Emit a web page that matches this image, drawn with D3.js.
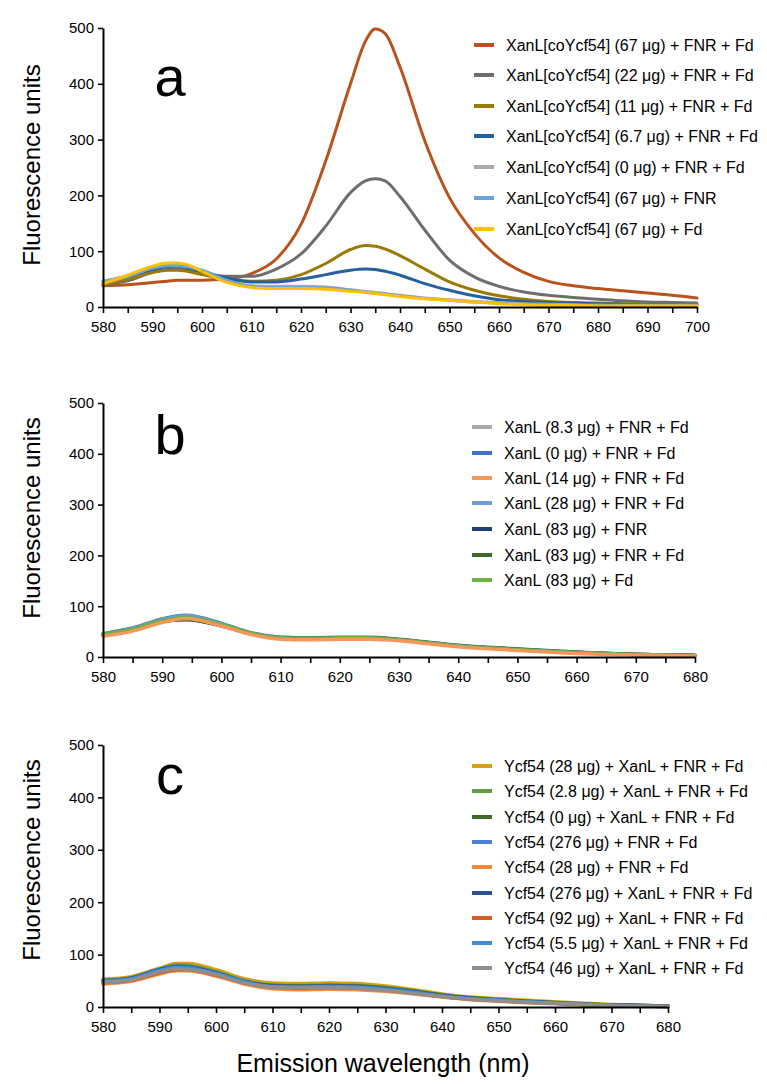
<!DOCTYPE html>
<html><head><meta charset="utf-8">
<script src="https://cdn.jsdelivr.net/npm/d3@7"></script>
<style>
body{margin:0;background:#fff}
svg{display:block}
text{font-family:"Liberation Sans",Arial,Helvetica,sans-serif;fill:#000}
</style>
</head><body>
<svg id="chart" width="767" height="1084"></svg>
<script>
// ---------------- DATA ----------------
const yTicks = [0, 100, 200, 300, 400, 500];

// Panel a
const waveA = [580,585,590,593,595,597,600,605,610,615,620,625,630,633,635,637,640,645,650,655,660,665,670,675,680,685,690,695,700];
const namesA = [
  "XanL[coYcf54] (67 \u03bcg) + FNR + Fd",
  "XanL[coYcf54] (22 \u03bcg) + FNR + Fd",
  "XanL[coYcf54] (11 \u03bcg) + FNR + Fd",
  "XanL[coYcf54] (6.7 \u03bcg) + FNR + Fd",
  "XanL[coYcf54] (0 \u03bcg) + FNR + Fd",
  "XanL[coYcf54] (67 \u03bcg) + FNR",
  "XanL[coYcf54] (67 \u03bcg) + Fd"
];
const colorsA = ["#B8531C","#6E6E6E","#9A7A06","#25609F","#ABABAB","#68A3DC","#FFC000"];
const a67  = [38,40,44,46,48,48,48,50,60,86,148,262,400,476,498,490,430,298,196,132,88,62,46,38,33,29,25,21,16];
const a22  = [40,47,62,67,68,66,61,55,55,68,95,145,205,226,230,226,198,138,84,54,37,27,21,17,14,11,9,8,7];
const a11  = [40,50,62,66,66,64,58,50,46,48,58,78,103,110,109,104,92,68,45,30,20,14,10,8,7,6,5,4,4];
const a6_7 = [45,55,67,72,73,70,64,52,45,45,50,58,66,68,67,64,57,42,30,20,13,10,8,7,6,5,4,4,3];
const a0   = [42,55,70,75,76,74,65,47,38,37,37,36,31,28,26,24,21,16,13,10,8,6,5,4,3,3,3,3,3];
const aFNR = [46,56,70,74,74,72,66,48,37,35,35,34,30,27,25,23,20,15,12,9,7,5,4,3,3,2,2,2,2];
const aFd  = [42,57,73,79,79,76,64,44,35,33,33,32,28,26,24,22,19,15,12,9,6,4,3,3,2,2,2,2,2];

// Panel b
const waveB = [580,585,590,594,600,605,610,615,620,625,630,635,640,645,650,655,660,665,670,675,680];
const namesB = [
  "XanL (8.3 \u03bcg) + FNR + Fd",
  "XanL (0 \u03bcg) + FNR + Fd",
  "XanL (14 \u03bcg) + FNR + Fd",
  "XanL (28 \u03bcg) + FNR + Fd",
  "XanL (83 \u03bcg) + FNR",
  "XanL (83 \u03bcg) + FNR + Fd",
  "XanL (83 \u03bcg) + Fd"
];
const colorsB = ["#A9A9A9","#4472C4","#F4975A","#6F9BDC","#223F74","#3F6A2A","#6DB043"];
const b8_3  = [44,55,72,79,63,46,38,37,38,38,34,28,22,18,15,12,9,7,5,4,3];
const b0    = [46,57,75,82,66,48,39,38,39,39,35,29,23,19,16,13,10,7,5,4,3];
const b14   = [41,51,68,76,61,44,35,34,35,35,32,26,20,16,13,10,7,5,4,3,2];
const b28   = [45,56,74,81,65,47,39,38,38,38,34,28,22,18,15,12,9,7,5,4,3];
const b83F  = [44,54,70,74,61,46,38,37,38,38,34,28,22,18,15,12,9,7,5,4,3];
const b83FF = [44,54,70,74,62,46,38,37,38,38,34,28,22,18,15,12,9,6,5,4,3];
const b83Fd = [45,55,72,78,64,47,38,37,38,38,34,28,22,18,15,12,9,7,5,4,3];

// Panel c
const waveC = [580,585,590,593,595,600,605,610,615,620,625,630,635,640,645,650,655,660,665,670,675,680];
const namesC = [
  "Ycf54 (28 \u03bcg) + XanL + FNR + Fd",
  "Ycf54 (2.8 \u03bcg) + XanL + FNR + Fd",
  "Ycf54 (0 \u03bcg) + XanL + FNR + Fd",
  "Ycf54 (276 \u03bcg) + FNR + Fd",
  "Ycf54 (28 \u03bcg) + FNR + Fd",
  "Ycf54 (276 \u03bcg) + XanL + FNR + Fd",
  "Ycf54 (92 \u03bcg) + XanL + FNR + Fd",
  "Ycf54 (5.5 \u03bcg) + XanL + FNR + Fd",
  "Ycf54 (46 \u03bcg) + XanL + FNR + Fd"
];
const colorsC = ["#D4A00F","#5E9E3C","#3E6B28","#4A80D6","#F28A3E","#2C4F98","#D65F1D","#3C8DD8","#8E8E8E"];
const c28X  = [53,58,74,83,83,71,54,46,45,46,45,40,33,25,19,16,13,10,7,5,3,2];
const c2_8  = [51,56,72,80,79,67,50,42,41,42,41,37,31,23,18,14,11,8,6,4,3,2];
const c0    = [50,55,71,78,77,66,49,41,40,41,40,36,30,23,17,14,11,8,6,4,3,2];
const c276F = [50,55,72,78,77,66,49,40,39,40,39,35,29,22,17,13,10,8,5,4,3,2];
const c28F  = [44,49,63,69,69,59,44,35,33,34,33,30,25,19,14,11,8,6,4,3,2,1];
const c276X = [49,55,71,77,76,65,48,40,39,40,39,35,29,22,17,13,10,8,5,4,3,2];
const c92   = [46,51,65,71,71,61,46,38,36,37,36,32,27,20,15,12,9,7,5,3,2,1];
const c5_5  = [49,54,70,76,75,64,48,39,38,39,38,34,28,21,16,13,10,7,5,3,2,1];
const c46   = [47,52,67,73,72,62,46,38,37,37,36,32,26,20,15,12,9,7,5,3,2,1];

// ---------------- LAYOUT ----------------
const panels = [
  {letter:"a", wave:waveA, xMax:700, names:namesA, colors:colorsA,
   series:[a67,a22,a11,a6_7,a0,aFNR,aFd], order:[0,1,2,3,4,5,6],
   x0:103, x1:697, yTop:28, yBot:307, legX:474, legY:[45,75,106,136,167,198,229],
   letterY:96, titleY:165, lw:3},
  {letter:"b", wave:waveB, xMax:680, names:namesB, colors:colorsB,
   series:[b8_3,b0,b14,b28,b83F,b83FF,b83Fd], order:[0,1,3,4,5,6,2],
   x0:103, x1:695, yTop:403, yBot:657, legX:472, legY:[427,453,478,503,529,555,580],
   letterY:454, titleY:518, lw:3.5},
  {letter:"c", wave:waveC, xMax:680, names:namesC, colors:colorsC,
   series:[c28X,c2_8,c0,c276F,c28F,c276X,c92,c5_5,c46], order:[0,1,2,3,4,5,6,7,8],
   x0:103, x1:668, yTop:745, yBot:1007, legX:472, legY:[766,791,817,842,867,893,918,943,968],
   letterY:794, titleY:860, lw:3.5}
];

const svg = d3.select("#chart");

panels.forEach(p => {
  const x = d3.scaleLinear().domain([580, p.xMax]).range([p.x0, p.x1]);
  const y = d3.scaleLinear().domain([0, 500]).range([p.yBot, p.yTop]);
  const g = svg.append("g");

  // series
  const line = d3.line().x(d => x(d[0])).y(d => y(d[1])).curve(d3.curveMonotoneX);
  p.order.forEach(i => {
    const pts = p.wave.map((w, k) => [w, p.series[i][k]]);
    g.append("path").attr("d", line(pts)).attr("fill", "none")
      .attr("stroke", p.colors[i]).attr("stroke-width", p.lw)
      .attr("stroke-linejoin", "round").attr("stroke-linecap", "round");
  });

  // x axis
  const xt = d3.range(580, p.xMax + 1, 5);
  const xAxis = d3.axisBottom(x).tickValues(xt).tickSize(6).tickSizeOuter(0)
    .tickFormat(d => d % 10 === 0 ? d : "");
  const gx = g.append("g").attr("transform", `translate(0,${p.yBot})`).call(xAxis);
  gx.select(".domain").attr("stroke", "#000").attr("stroke-width", 2);
  gx.selectAll(".tick line").attr("stroke", "#000").attr("stroke-width", 1.6);
  gx.selectAll(".tick text").attr("font-size", 15).attr("dy", "1.05em").attr("y", 9);

  // y axis
  const yAxis = d3.axisLeft(y).tickValues(yTicks).tickSize(5).tickSizeOuter(0);
  const gy = g.append("g").attr("transform", `translate(${p.x0},0)`).call(yAxis);
  gy.select(".domain").attr("stroke", "#000").attr("stroke-width", 2);
  gy.selectAll(".tick line").attr("stroke", "#000").attr("stroke-width", 1.6);
  gy.selectAll(".tick text").attr("font-size", 15).attr("x", -9);

  // y title
  g.append("text").attr("transform", `translate(40,${p.titleY}) rotate(-90)`)
    .attr("text-anchor", "middle").attr("font-size", 24).text("Fluorescence units");

  // panel letter
  g.append("text").attr("x", 170).attr("y", p.letterY).attr("text-anchor", "middle")
    .attr("font-size", 56).text(p.letter);

  // legend
  p.names.forEach((n, i) => {
    const ly = p.legY[i];
    g.append("line").attr("x1", p.legX).attr("x2", p.legX + 20)
      .attr("y1", ly).attr("y2", ly).attr("stroke", p.colors[i]).attr("stroke-width", 4);
    g.append("text").attr("x", p.legX + 32).attr("y", ly).attr("dy", "0.35em")
      .attr("font-size", 16).text(n);
  });
});

// x title
svg.append("text").attr("x", 383).attr("y", 1072).attr("text-anchor", "middle")
  .attr("font-size", 25).text("Emission wavelength (nm)");
</script>
</body></html>
